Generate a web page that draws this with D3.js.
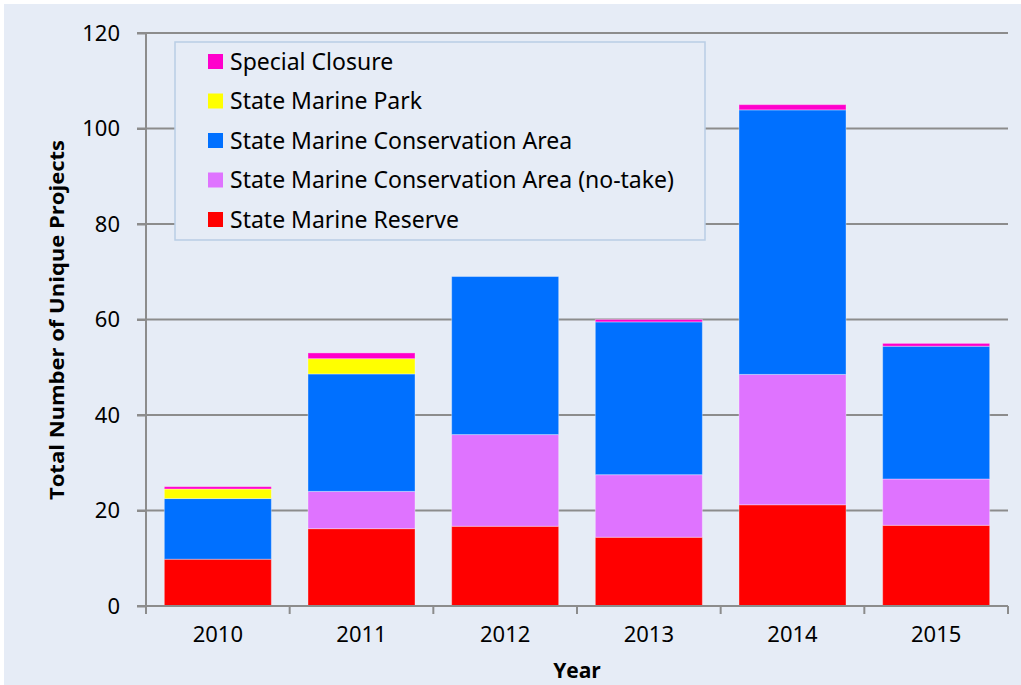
<!DOCTYPE html>
<html>
<head>
<meta charset="utf-8">
<script src="https://cdn.jsdelivr.net/npm/d3@7"></script>
<style>
  html, body { margin: 0; padding: 0; background: #ffffff; }
  svg { display: block; }
</style>
</head>
<body>
<svg id="chart" width="1021" height="685"></svg>
<script>
// ---- data ----
const years = ["2010", "2011", "2012", "2013", "2014", "2015"];
const stateMarineReserve = [9.8, 16.2, 16.7, 14.4, 21.2, 16.9];
const smcaNoTake = [0, 7.8, 19.2, 13.1, 27.3, 9.7];
const smca = [12.7, 24.6, 33.1, 32.0, 55.4, 27.8];
const stateMarinePark = [2.0, 3.2, 0, 0, 0, 0];
const specialClosure = [0.5, 1.2, 0, 0.5, 1.1, 0.6];
const yTicks = [0, 20, 40, 60, 80, 100, 120];
const seriesNames = [
  "State Marine Reserve",
  "State Marine Conservation Area (no-take)",
  "State Marine Conservation Area",
  "State Marine Park",
  "Special Closure"
];
const seriesColors = ["#ff0000", "#df73ff", "#0070ff", "#ffff00", "#ff00cc"];

// ---- build table ----
const seriesValues = [stateMarineReserve, smcaNoTake, smca, stateMarinePark, specialClosure];
const table = years.map((y, i) => {
  const row = { year: y };
  seriesNames.forEach((s, k) => row[s] = seriesValues[k][i]);
  return row;
});
const stacked = d3.stack().keys(seriesNames)(table);

const svg = d3.select("#chart");
const W = 1021, H = 685;

// background
svg.append("rect").attr("x", 4).attr("y", 4).attr("width", W - 4).attr("height", H - 4)
  .attr("fill", "#e6ecf6");

const x = d3.scaleBand().domain(years).range([146, 1008]).paddingInner(0.255).paddingOuter(0.1275);
const y = d3.scaleLinear().domain([0, 120]).range([606, 33]);
const gridColor = "#8c8c8c";

// gridlines
svg.append("g").selectAll("line").data(yTicks.filter(t => t > 0)).join("line")
  .attr("x1", 137).attr("x2", 1008)
  .attr("y1", d => y(d)).attr("y2", d => y(d))
  .attr("stroke", gridColor).attr("stroke-width", 2);

// bars
svg.append("g").selectAll("g").data(stacked).join("g")
  .attr("fill", (d, i) => seriesColors[i])
  .selectAll("rect").data(d => d.filter(p => p[1] - p[0] > 0)).join("rect")
  .attr("x", d => x(d.data.year))
  .attr("width", x.bandwidth())
  .attr("y", d => y(d[1]))
  .attr("height", d => y(d[0]) - y(d[1]))
  .attr("stroke", "rgba(255,255,255,0.35)")
  .attr("stroke-width", 1);

// y axis
const yAxis = svg.append("g").attr("transform", "translate(146,0)")
  .call(d3.axisLeft(y).tickValues(yTicks).tickSize(9).tickPadding(17));
yAxis.select(".domain").attr("stroke", gridColor).attr("stroke-width", 2)
  .attr("d", "M0,33V614");
yAxis.selectAll(".tick line").attr("stroke", gridColor).attr("stroke-width", 2);
yAxis.selectAll("text").attr("font-family", "'Noto Sans', 'Open Sans', sans-serif")
  .attr("font-size", 22).attr("fill", "#000");

// x axis
const xAxis = svg.append("g").attr("transform", "translate(0,606)")
  .call(d3.axisBottom(x).tickSize(0).tickPadding(20));
xAxis.select(".domain").attr("stroke", gridColor).attr("stroke-width", 2)
  .attr("d", "M137,0H1008");
xAxis.selectAll("text").attr("font-family", "'Noto Sans', 'Open Sans', sans-serif")
  .attr("font-size", 22).attr("fill", "#000");
// category boundary ticks
const bounds = years.map(yr => x(yr) - x.step() * x.paddingInner() / 2);
bounds[0] = 146;
bounds.push(1008);
svg.append("g").selectAll("line").data(bounds).join("line")
  .attr("x1", d => d).attr("x2", d => d)
  .attr("y1", 606).attr("y2", 614)
  .attr("stroke", gridColor).attr("stroke-width", 2);

// axis titles
svg.append("text").attr("x", 577).attr("y", 678).attr("text-anchor", "middle")
  .attr("font-family", "'Open Sans', 'Noto Sans', sans-serif").attr("font-weight", "bold")
  .attr("font-size", 21).attr("fill", "#000").text("Year");
svg.append("text").attr("transform", "translate(64,320) rotate(-90)").attr("text-anchor", "middle")
  .attr("font-family", "'Open Sans', 'Noto Sans', sans-serif").attr("font-weight", "bold")
  .attr("font-size", 20).attr("fill", "#000")
  .attr("textLength", 360).attr("lengthAdjust", "spacingAndGlyphs")
  .text("Total Number of Unique Projects");

// legend
const legend = svg.append("g");
legend.append("rect").attr("x", 175).attr("y", 42).attr("width", 530).attr("height", 198)
  .attr("fill", "#e6ecf6").attr("stroke", "#b9cde5").attr("stroke-width", 1.5);
const legendOrder = seriesNames.map((n, i) => ({ name: n, color: seriesColors[i] })).reverse();
const items = legend.selectAll("g.item").data(legendOrder).join("g")
  .attr("transform", (d, i) => `translate(208,${61.5 + i * 39.5})`);
items.append("rect").attr("x", 0).attr("y", -7.5).attr("width", 15).attr("height", 15)
  .attr("fill", d => d.color);
items.append("text").attr("x", 22).attr("y", 0).attr("dy", "0.36em")
  .attr("font-family", "'Noto Sans', 'Open Sans', sans-serif").attr("font-size", 23)
  .attr("fill", "#000").text(d => d.name);
</script>
</body>
</html>
